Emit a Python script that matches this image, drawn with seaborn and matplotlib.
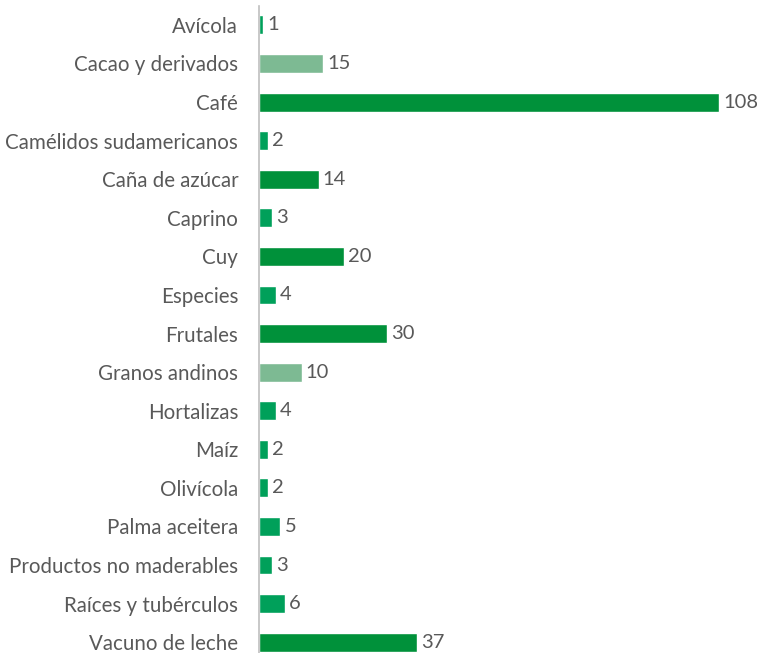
import matplotlib
matplotlib.use("Agg")
import matplotlib.pyplot as plt
import seaborn as sns
import pandas as pd

categorias = [
    "Avícola", "Cacao y derivados", "Café", "Camélidos sudamericanos",
    "Caña de azúcar", "Caprino", "Cuy", "Especies", "Frutales",
    "Granos andinos", "Hortalizas", "Maíz", "Olivícola", "Palma aceitera",
    "Productos no maderables", "Raíces y tubérculos", "Vacuno de leche",
]
valores = [1, 15, 108, 2, 14, 3, 20, 4, 30, 10, 4, 2, 2, 5, 3, 6, 37]

OSCURO = "#00913A"
MEDIO = "#00A05A"
CLARO = "#7DBA93"
colores = [MEDIO, CLARO, OSCURO, MEDIO, OSCURO, MEDIO, OSCURO, MEDIO, OSCURO,
           CLARO, MEDIO, MEDIO, MEDIO, MEDIO, MEDIO, MEDIO, OSCURO]

df = pd.DataFrame({"categoria": categorias, "valor": valores})

sns.set_theme(style="white")
plt.rcParams["font.family"] = ["Lato", "DejaVu Sans"]

W, H = 757, 653
fig = plt.figure(figsize=(W / 100, H / 100), dpi=100)
x0, x1 = 259, 740
ax = fig.add_axes([x0 / W, 0, (x1 - x0) / W, 1 - 6 / H])

sns.barplot(data=df, x="valor", y="categoria", hue="categoria",
            palette=dict(zip(categorias, colores)), legend=False,
            width=0.49, ax=ax, saturation=1)

ax.set_xlim(0, 108 * (x1 - x0) / 460)
ax.set_ylim(16.28, -0.49)
ax.set_xlabel("")
ax.set_ylabel("")
ax.set_xticks([])
for s in ["top", "right", "bottom"]:
    ax.spines[s].set_visible(False)
ax.spines["left"].set_color("#BFBFBF")
ax.spines["left"].set_linewidth(1.2)
ax.tick_params(axis="y", length=0, pad=15, labelsize=14.8, labelcolor="#595959")

for cont in ax.containers:
    ax.bar_label(cont, padding=3, fontsize=14.5, color="#595959")

fig.savefig("out.png", dpi=100)
